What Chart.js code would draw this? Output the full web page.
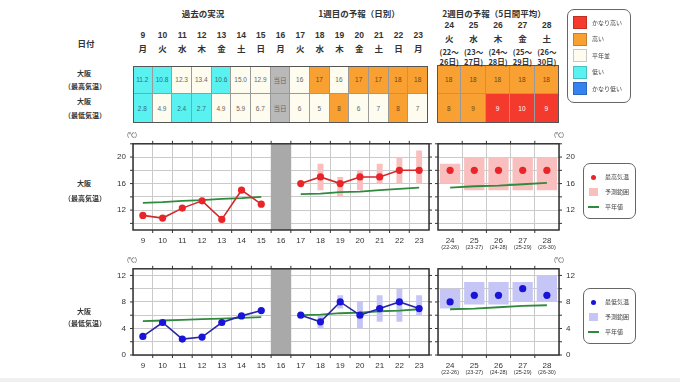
<!DOCTYPE html>
<html>
<head>
<meta charset="utf-8">
<script src="https://cdn.jsdelivr.net/npm/chart.js@4"></script>
<style>
body { margin: 0; width: 680px; height: 382px; background: #fff; position: relative; overflow: hidden;
       font-family: "Noto Sans CJK JP", "Noto Sans", sans-serif; color: #333; }
.t { position: absolute; white-space: nowrap; line-height: 1; }
canvas { position: absolute; }
.cell { position: absolute; box-sizing: border-box; border-right: 1px solid #9a9a9a; border-bottom: 1px solid #9a9a9a;
        display: flex; align-items: center; justify-content: center; font-size: 6.5px;
        font-family: "Liberation Sans", "Noto Sans CJK JP", sans-serif; }
.frame { position: absolute; box-sizing: border-box; border: 1.5px solid #555; }
.box { position: absolute; box-sizing: border-box; border: 1.5px solid #666; border-radius: 7px; background: #fff; }
.sw { position: absolute; box-sizing: border-box; border: 1px solid rgba(0,0,0,0.2); }
</style>
</head>
<body>
<canvas id="maxLeft" width="340" height="124" style="left:93px;top:132px"></canvas>
<canvas id="maxRight" width="153" height="124" style="left:434px;top:132px"></canvas>
<canvas id="minLeft" width="340" height="124" style="left:93px;top:257px"></canvas>
<canvas id="minRight" width="153" height="124" style="left:434px;top:257px"></canvas>
<div style="position:absolute;left:0;top:378px;width:680px;height:4px;background:#f0f0f0"></div>
<script>
// 日付
const days1 = ['9', '10', '11', '12', '13', '14', '15', '16', '17', '18', '19', '20', '21', '22', '23'];
const weekdays1 = ['月', '火', '水', '木', '金', '土', '日', '月', '火', '水', '木', '金', '土', '日', '月'];
const todayDay = '16';
const days2 = ['24', '25', '26', '27', '28'];
const weekdays2 = ['火', '水', '木', '金', '土'];
const periods2 = ['22-26', '23-27', '24-28', '25-29', '26-30'];

// 最高気温
const maxObs = [11.2, 10.8, 12.3, 13.4, 10.6, 15.0, 12.9];
const maxFcst1 = [16, 17, 16, 17, 17, 18, 18];
const maxLow1 = [null, 15, 14, 15, 16, 16, 16];
const maxHigh1 = [null, 19, 17, 18, 19, 20, 21];
const maxFcst2 = [18, 18, 18, 18, 18];
const maxLow2 = [16, 15, 15, 15, 15];
const maxHigh2 = [19, 20, 20, 20, 20];
const maxNormalObs = [13.1, 13.2, 13.4, 13.5, 13.7, 13.8, 14.0];
const maxNormal1 = [14.4, 14.5, 14.7, 14.8, 15.0, 15.2, 15.4];
const maxNormal2 = [15.4, 15.6, 15.7, 15.9, 16.1];
const maxClassObs = ['low', 'low', 'normal', 'normal', 'low', 'normal', 'normal'];
const maxClass1 = ['normal', 'high', 'normal', 'high', 'high', 'high', 'high'];
const maxClass2 = ['high', 'high', 'high', 'high', 'high'];

// 最低気温
const minObs = [2.8, 4.9, 2.4, 2.7, 4.9, 5.9, 6.7];
const minFcst1 = [6, 5, 8, 6, 7, 8, 7];
const minLow1 = [null, 4, 7, 4, 5, 5, 6];
const minHigh1 = [null, 6, 9, 8, 9, 10, 9];
const minFcst2 = [8, 9, 9, 10, 9];
const minLow2 = [7, 7.6, 7.6, 8, 8];
const minHigh2 = [10, 11, 11, 11, 12];
const minNormalObs = [5.1, 5.2, 5.3, 5.4, 5.5, 5.6, 5.7];
const minNormal1 = [6.0, 6.1, 6.3, 6.4, 6.6, 6.7, 6.9];
const minNormal2 = [6.9, 7.0, 7.2, 7.4, 7.5];
const minClassObs = ['low', 'normal', 'low', 'low', 'normal', 'normal', 'normal'];
const minClass1 = ['normal', 'normal', 'high', 'normal', 'normal', 'high', 'normal'];
const minClass2 = ['high', 'high', 'vhigh', 'vhigh', 'vhigh'];

const maxGrid = [10, 12, 14, 16, 18, 20, 22];
const minGrid = [0, 2, 4, 6, 8, 10, 12];

const classes = {
    vhigh:  { bg: '#f33a2c', fg: '#ffffff', name: 'かなり高い' },
    high:   { bg: '#f8a132', fg: '#6b4512', name: '高い' },
    normal: { bg: '#fdfcee', fg: '#666666', name: '平年並' },
    low:    { bg: '#5af1f1', fg: '#2b6f7c', name: '低い' },
    vlow:   { bg: '#3583f0', fg: '#ffffff', name: 'かなり低い' },
    today:  { bg: '#b9b9b9', fg: '#666666' }
};

function addText(txt, x, y, size, opts = {}) {
    const d = document.createElement('div');
    d.className = 't';
    d.textContent = txt;
    d.style.left = x + 'px';
    d.style.top = y + 'px';
    d.style.fontSize = size + 'px';
    d.style.transform = opts.left ? 'translate(0,-50%)' : 'translate(-50%,-50%)';
    if (opts.bold) d.style.fontWeight = 'bold';
    if (opts.color) d.style.color = opts.color;
    if (opts.font) d.style.fontFamily = opts.font;
    document.body.appendChild(d);
}

function addDiv(cls, x, y, w, h, bg) {
    const d = document.createElement('div');
    d.className = cls;
    Object.assign(d.style, { left: x + 'px', top: y + 'px', width: w + 'px', height: h + 'px' });
    if (bg) d.style.background = bg;
    document.body.appendChild(d);
    return d;
}

// 表
function addTable(x0, y0, w, hs, rows) {
    let y = y0;
    rows.forEach((row, r) => {
        row.forEach((c, i) => {
            const d = addDiv('cell', x0 + i * w, y, w, hs[r], classes[c.c].bg);
            d.style.color = classes[c.c].fg;
            d.textContent = c.t;
        });
        y += hs[r];
    });
    addDiv('frame', x0, y0, w * rows[0].length, y - y0);
}

const cellsOf = (vals, cls, fmt) => vals.map((v, i) => ({ t: fmt(v), c: cls[i] }));
const todayCell = { t: '当日', c: 'today' };

const w1 = 295 / days1.length;
addTable(133, 66, w1, [28, 29], [
    [...cellsOf(maxObs, maxClassObs, v => v.toFixed(1)), todayCell, ...cellsOf(maxFcst1, maxClass1, String)],
    [...cellsOf(minObs, minClassObs, v => v.toFixed(1)), todayCell, ...cellsOf(minFcst1, minClass1, String)]
]);
const w2 = 122 / days2.length;
addTable(437, 65, w2, [29, 29], [
    cellsOf(maxFcst2, maxClass2, String),
    cellsOf(minFcst2, minClass2, String)
]);

// 見出し
addText('過去の実況', 203, 13, 8.5, { bold: true });
addText('1週目の予報（日別）', 359, 13, 8.5, { bold: true });
addText('2週目の予報（5日間平均）', 494, 12.5, 8.5, { bold: true });
addText('日付', 86, 42.5, 8.5, { bold: true });
days1.forEach((d, i) => {
    const cx = 133 + (i + 0.5) * w1;
    addText(d, cx, 35, 8.5, { bold: true, font: '"Liberation Sans", sans-serif' });
    addText(weekdays1[i], cx, 48, 8.5, { bold: true });
});
days2.forEach((d, i) => {
    const cx = 437 + (i + 0.5) * w2;
    const [a, b] = periods2[i].split('-');
    addText(d, cx, 25, 8.5, { bold: true, font: '"Liberation Sans", sans-serif' });
    addText(weekdays2[i], cx, 38, 8.5, { bold: true });
    addText('(' + a + '〜', cx, 51.5, 7.5, { bold: true });
    addText(b + '日)', cx, 61.5, 7.5, { bold: true });
});
addText('大阪', 84, 73, 7, { bold: true });
addText('（最高気温）', 85, 86, 7, { bold: true });
addText('大阪', 84, 101, 7, { bold: true });
addText('（最低気温）', 85, 114.5, 7, { bold: true });
addText('大阪', 84, 183, 7, { bold: true });
addText('（最高気温）', 85, 197.5, 7, { bold: true });
addText('大阪', 84, 311, 7, { bold: true });
addText('（最低気温）', 85, 322.5, 7, { bold: true });
addText('(℃)', 132, 135, 6);
addText('(℃)', 559, 135, 6);
addText('(℃)', 132, 260, 6);
addText('(℃)', 559, 260, 6);

// 凡例（階級）
addDiv('box', 567, 9, 64, 94);
['vhigh', 'high', 'normal', 'low', 'vlow'].forEach((k, i) => {
    const y = 16 + i * 16.5;
    addDiv('sw', 573, y, 14, 13, classes[k].bg);
    addText(classes[k].name, 592, y + 6.5, 6, { color: '#444', left: true });
});

// 凡例（グラフ）
function chartLegend(y0, dotColor, rangeColor, name) {
    addDiv('box', 583, y0, 53, 56);
    const dot = addDiv('sw', 591, y0 + 11.5, 5, 5, dotColor);
    dot.style.borderRadius = '50%';
    dot.style.border = 'none';
    addText(name, 605, y0 + 14, 6, { color: '#444', left: true });
    const sq = addDiv('sw', 589, y0 + 25, 9, 8, rangeColor);
    sq.style.border = 'none';
    addText('予測範囲', 605, y0 + 29, 6, { color: '#444', left: true });
    const ln = addDiv('sw', 588, y0 + 43, 11, 2, '#2f8a3c');
    ln.style.border = 'none';
    addText('平年値', 605, y0 + 44, 6, { color: '#444', left: true });
}
chartLegend(163, '#e8262a', '#f9bebe', '最高気温');
chartLegend(288, '#1a14d8', '#c6c6f6', '最低気温');

// グラフ
Chart.defaults.font.family = '"Liberation Sans", Arial, sans-serif';

const framePlugin = {
    id: 'frame',
    afterDatasetsDraw(chart) {
        const { ctx, chartArea: a } = chart;
        const n = chart.data.labels.length;
        const cw = a.width / n;
        const ys = chart.scales.y;
        ctx.save();
        ctx.strokeStyle = '#333';
        ctx.lineWidth = 1;
        ctx.beginPath();
        for (let i = 1; i < n; i++) {
            const x = a.left + i * cw;
            ctx.moveTo(x, a.top); ctx.lineTo(x, a.top - 3);
            ctx.moveTo(x, a.bottom); ctx.lineTo(x, a.bottom + 3);
        }
        ys.ticks.forEach(t => {
            const y = ys.getPixelForValue(t.value);
            ctx.moveTo(a.left, y); ctx.lineTo(a.left - 3, y);
            ctx.moveTo(a.right, y); ctx.lineTo(a.right + 3, y);
        });
        ctx.stroke();
        ctx.lineWidth = 1.5;
        ctx.strokeRect(a.left, a.top, a.width, a.height);
        ctx.restore();
    }
};

const subLabelPlugin = {
    id: 'subLabels',
    afterDraw(chart, args, opts) {
        if (!opts || !opts.labels) return;
        const { ctx, chartArea: a, scales: { x } } = chart;
        ctx.save();
        ctx.font = '5.5px "Liberation Sans", Arial, sans-serif';
        ctx.fillStyle = '#333';
        ctx.textAlign = 'center';
        ctx.textBaseline = 'middle';
        opts.labels.forEach((t, i) => ctx.fillText('(' + t + ')', x.getPixelForTick(i), a.bottom + 17));
        ctx.restore();
    }
};

function makeChart(id, cfg) {
    return new Chart(document.getElementById(id), {
        type: 'bar',
        data: { labels: cfg.labels, datasets: cfg.datasets },
        options: {
            responsive: false,
            animation: false,
            events: [],
            layout: { padding: cfg.padding },
            plugins: {
                legend: { display: false },
                tooltip: { enabled: false },
                subLabels: { labels: cfg.sub }
            },
            scales: {
                x: {
                    offset: true,
                    grid: { offset: true, color: '#cacaca', drawTicks: false },
                    border: { display: false },
                    ticks: { padding: 6, color: '#333', font: { size: 8 }, maxRotation: 0, autoSkip: false },
                    afterFit: s => { s.height = 26; }
                },
                y: {
                    position: cfg.yPos,
                    min: cfg.yMin,
                    max: cfg.yMax,
                    grid: { color: '#cacaca', drawTicks: false },
                    border: { display: false },
                    afterBuildTicks: s => { s.ticks = cfg.yGrid.map(v => ({ value: v })); },
                    ticks: { padding: 7, color: '#333', font: { size: 8 }, callback: v => (v % 4 === 0 ? String(v) : '') },
                    afterFit: s => { s.width = cfg.yWidth; }
                }
            }
        },
        plugins: [framePlugin, subLabelPlugin]
    });
}

const withGap = (past, week) => [...past, null, ...week];
const ranges = (lo, hi) => lo.map((l, i) => (l === null ? null : [l, hi[i]]));
const todayBar = (min, max) => days1.map(d => (d === todayDay ? [min, max] : null));

function leftSets(obs, fcst, lo, hi, normObs, norm1, lineColor, dotColor, rangeColor, yMin, yMax) {
    return [
        { type: 'line', data: withGap(obs, fcst), borderColor: lineColor, borderWidth: 1.6,
          pointRadius: 3.6, pointBackgroundColor: dotColor, pointBorderWidth: 0, order: 0 },
        { type: 'line', data: withGap(normObs, norm1), borderColor: '#2f8a3c', borderWidth: 1.8,
          pointRadius: 0, order: 1 },
        { type: 'bar', data: withGap(obs.map(() => null), ranges(lo, hi)), backgroundColor: rangeColor,
          barPercentage: 0.3, categoryPercentage: 1, grouped: false, borderWidth: 0, order: 2 },
        { type: 'bar', data: todayBar(yMin, yMax), backgroundColor: '#a9a9a9',
          barPercentage: 1, categoryPercentage: 1, grouped: false, borderWidth: 0, order: 3 }
    ];
}

function rightSets(fcst, lo, hi, norm, dotColor, rangeColor) {
    return [
        { type: 'line', data: fcst, showLine: false, pointRadius: 3.6, pointBackgroundColor: dotColor,
          pointBorderWidth: 0, order: 0 },
        { type: 'line', data: norm, borderColor: '#2f8a3c', borderWidth: 1.8, pointRadius: 0, order: 1 },
        { type: 'bar', data: ranges(lo, hi), backgroundColor: rangeColor,
          barPercentage: 0.84, categoryPercentage: 1, grouped: false, borderWidth: 0, order: 2 }
    ];
}

makeChart('maxLeft', {
    labels: days1, yPos: 'left', yMin: 9, yMax: 22, yGrid: maxGrid, yWidth: 40,
    padding: { top: 10, right: 4, left: 0, bottom: 0 },
    datasets: leftSets(maxObs, maxFcst1, maxLow1, maxHigh1, maxNormalObs, maxNormal1,
                       '#d02a2a', '#e8262a', '#f9bebe', 9, 22)
});
makeChart('maxRight', {
    labels: days2, sub: periods2, yPos: 'right', yMin: 9, yMax: 22, yGrid: maxGrid, yWidth: 28,
    padding: { top: 10, right: 0, left: 4, bottom: 0 },
    datasets: rightSets(maxFcst2, maxLow2, maxHigh2, maxNormal2, '#e8262a', '#f9bebe')
});
makeChart('minLeft', {
    labels: days1, yPos: 'left', yMin: 0, yMax: 13, yGrid: minGrid, yWidth: 40,
    padding: { top: 10, right: 4, left: 0, bottom: 0 },
    datasets: leftSets(minObs, minFcst1, minLow1, minHigh1, minNormalObs, minNormal1,
                       '#2a26a8', '#1a14d8', '#c6c6f6', 0, 13)
});
makeChart('minRight', {
    labels: days2, sub: periods2, yPos: 'right', yMin: 0, yMax: 13, yGrid: minGrid, yWidth: 28,
    padding: { top: 10, right: 0, left: 4, bottom: 0 },
    datasets: rightSets(minFcst2, minLow2, minHigh2, minNormal2, '#1a14d8', '#c6c6f6')
});
</script>
</body>
</html>
